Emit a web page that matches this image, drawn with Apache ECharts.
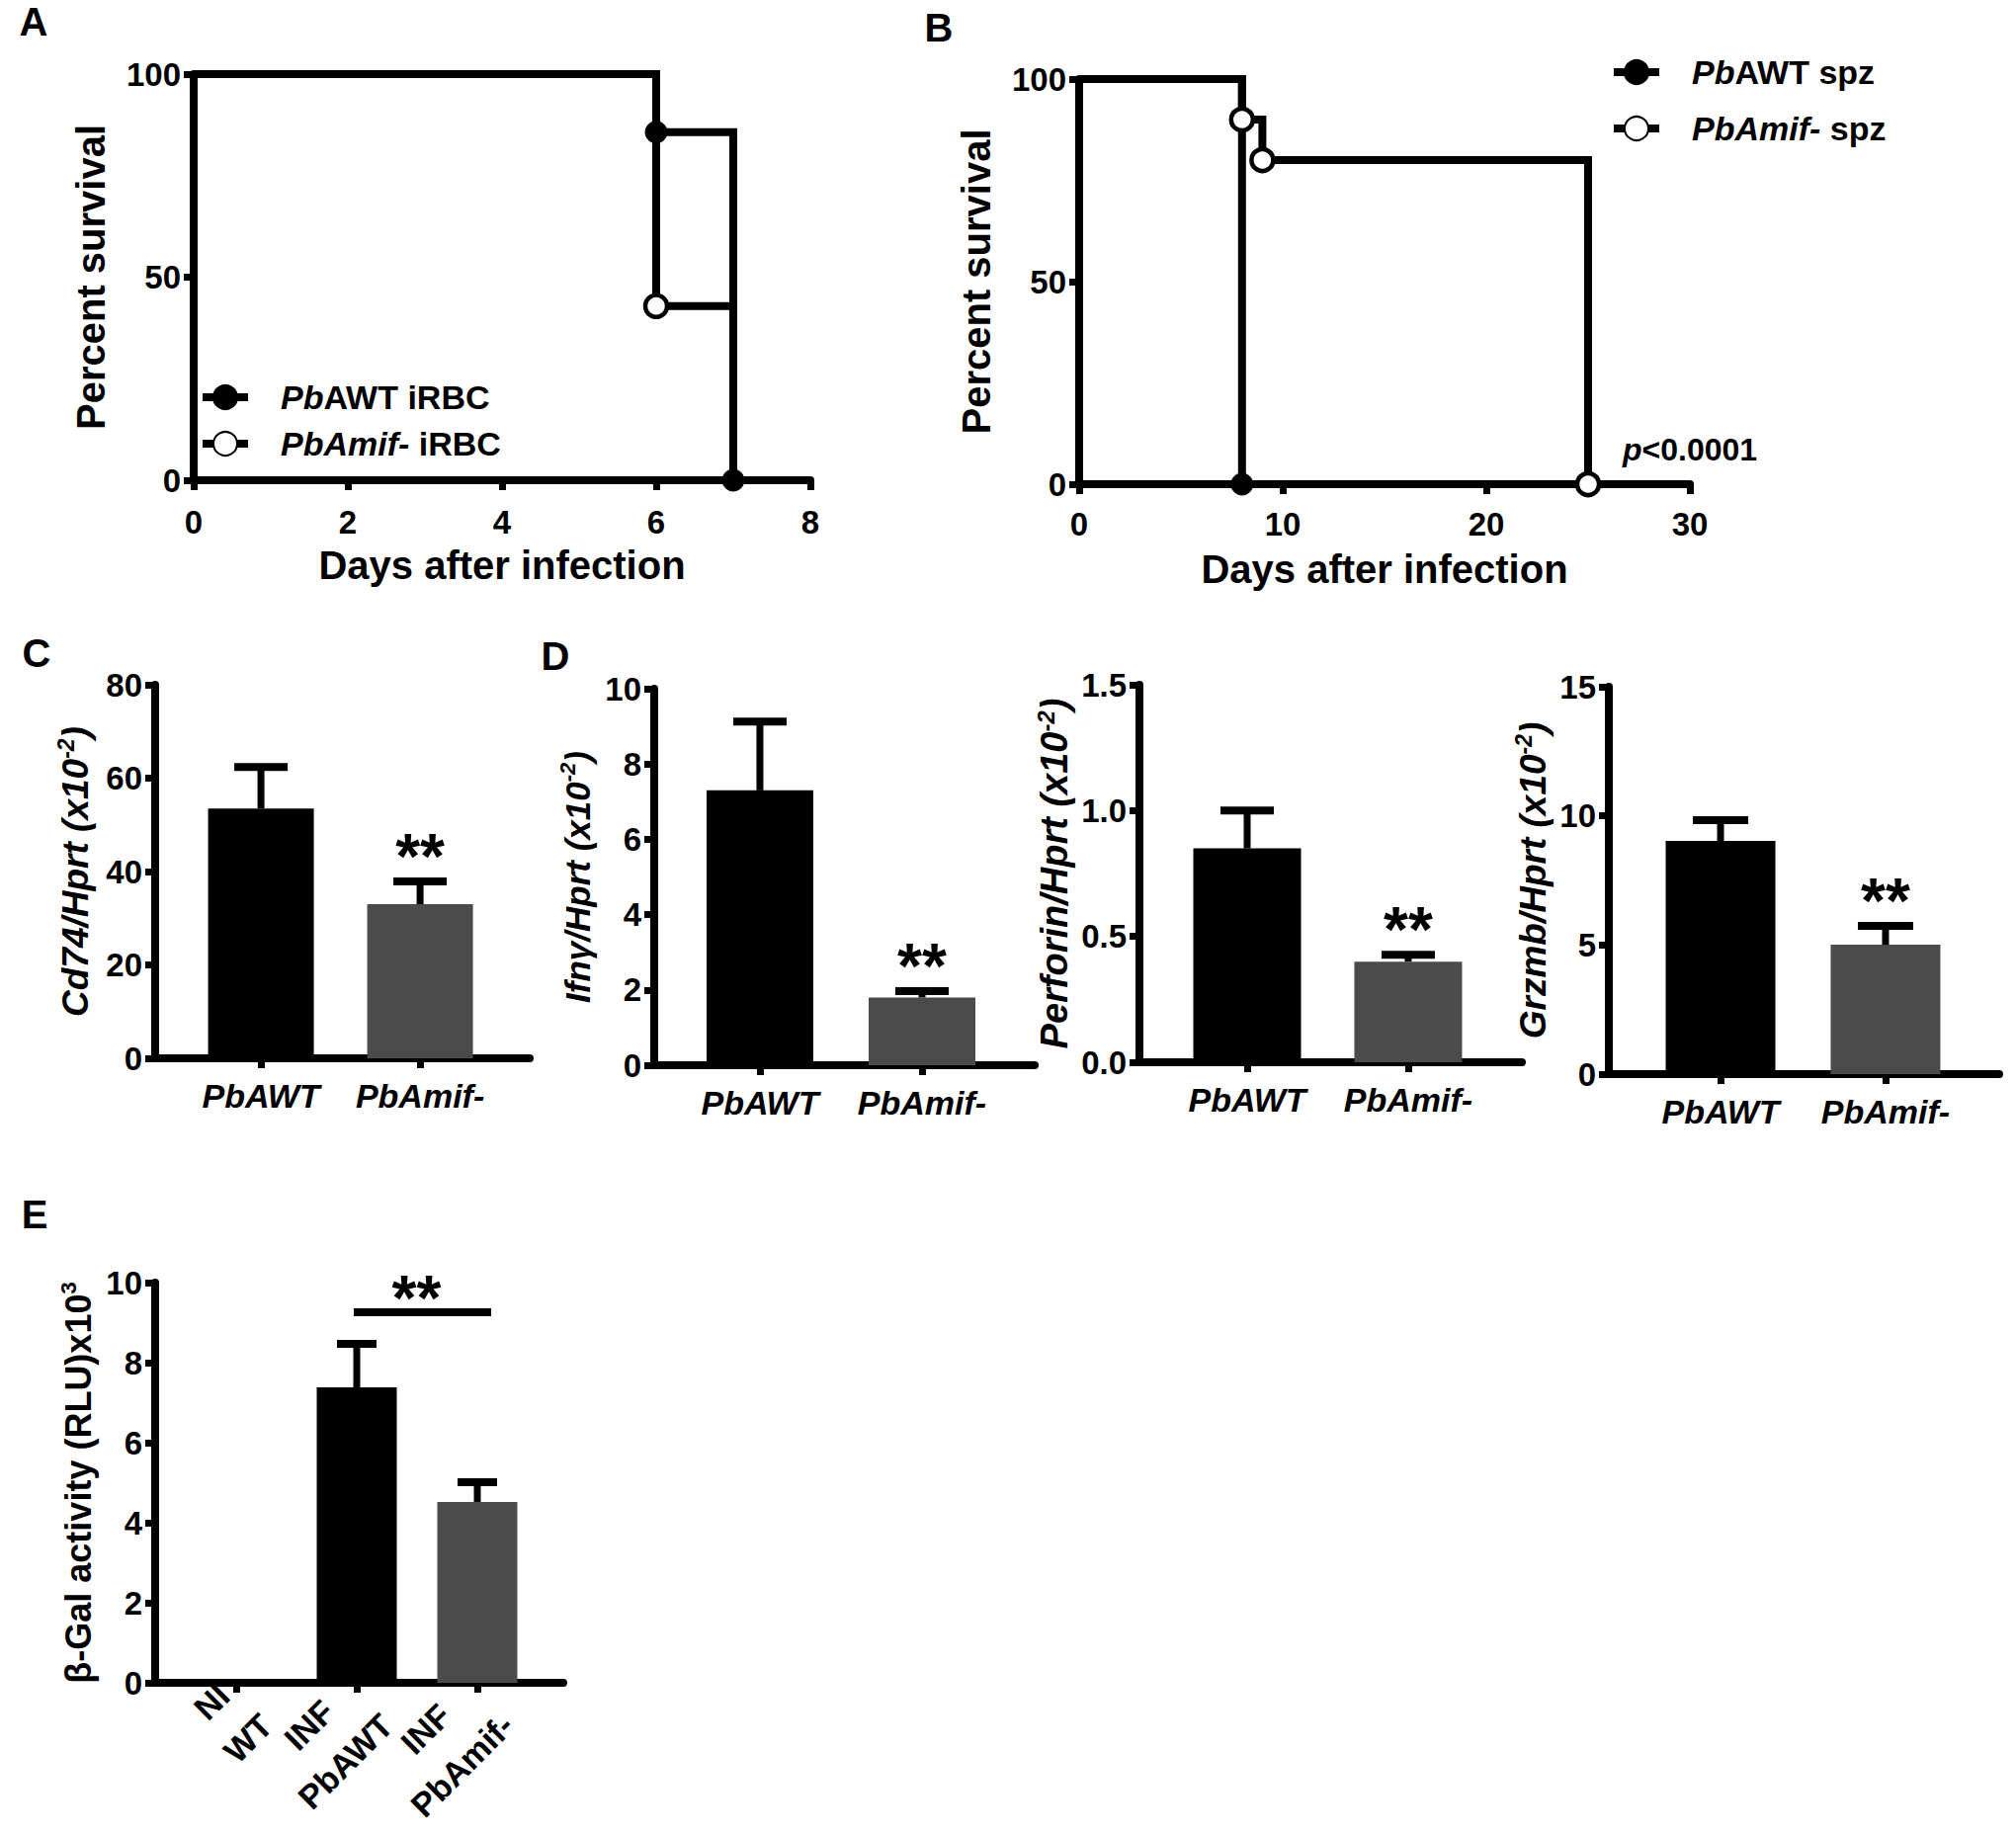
<!DOCTYPE html>
<html>
<head>
<meta charset="utf-8">
<script src="https://cdn.jsdelivr.net/npm/echarts@6/dist/echarts.min.js"></script>
<style>
html,body{margin:0;padding:0;background:#fff;}
#chart{width:2040px;height:1855px;}
</style>
</head>
<body>
<div id="chart"></div>
<script>
// ---------------- DATA ----------------
// Panel A: survival after iRBC infection, [day, percent]
const survA_WT = [[0,100],[6,85.7],[7,0]];
const survA_KO = [[0,100],[6,42.9],[7,0]];
// Panel B: survival after sporozoite infection, [day, percent]
const survB_WT = [[0,100],[8,0]];
const survB_KO = [[0,100],[8,90],[9,80],[25,0]];
const pValueB = 'p<0.0001';

// Panels C, D: qPCR, mean and SEM per group
const groups = ['PbAWT', 'PbAmif-'];
const cd74Mean = [53.5, 33.0],  cd74Sem = [8.9, 4.9];
const ifngMean = [7.3, 1.8],    ifngSem = [1.83, 0.17];
const perfMean = [0.85, 0.40],  perfSem = [0.15, 0.027];
const grzmbMean = [9.03, 5.01], grzmbSem = [0.80, 0.73];
const sigStars = [0, 1];            // '**' above second group

// Panel E: beta-Gal activity
const galCats = [['NI','WT'], ['INF','PbAWT'], ['INF','PbAmif-']];
const galMean = [0.06, 7.38, 4.52];
const galSem  = [0, 1.09, 0.49];
const galSig  = {x0: 0.975, x1: 2.115, y: 9.26, text: '**'};

// ---------------- STYLE ----------------
const FF = "'Liberation Sans', Arial, Helvetica, sans-serif";
const barColors = ['#000000', '#4b4b4b'];
const galColors = ['#000000', '#000000', '#4b4b4b'];
const AX = {color:'#000', width:8};
const TICK = {color:'#000', width:7};
const TICK_FS = 33;

function axisBase(extra) {
  return Object.assign({
    axisLine: {show:true, onZero:false, lineStyle: AX},
    axisTick: {show:true, length:10, lineStyle: TICK},
    splitLine: {show:false},
    axisLabel: {color:'#000', fontSize:TICK_FS, fontWeight:'bold', fontFamily:FF, margin:13}
  }, extra);
}

const grids = [
  {left:196,  top:75,   width:624, height:411}, // A
  {left:1092, top:80,   width:618, height:410}, // B
  {left:157,  top:693,  width:379, height:378}, // C
  {left:662,  top:697,  width:385, height:381}, // D1
  {left:1153, top:693,  width:387, height:382}, // D2
  {left:1628, top:695,  width:395, height:392}, // D3
  {left:157,  top:1298, width:413, height:405}  // E
];

function yRich(fs) {
  return {
    i: {fontSize:fs, fontWeight:'bold', fontStyle:'italic', fontFamily:FF, lineHeight:42, color:'#000'},
    n: {fontSize:fs, fontWeight:'bold', fontFamily:FF, lineHeight:42, color:'#000'},
    s: {fontSize:Math.round(fs*0.62), fontWeight:'bold', fontStyle:'italic', fontFamily:FF, lineHeight:24, verticalAlign:'top', color:'#000'},
    sn: {fontSize:Math.round(fs*0.62), fontWeight:'bold', fontFamily:FF, lineHeight:24, verticalAlign:'top', color:'#000'}
  };
}

function survX(gi, max, interval, margin) {
  return axisBase({type:'value', gridIndex:gi, min:0, max:max, interval:interval,
    axisLabel:{color:'#000', fontSize:TICK_FS, fontWeight:'bold', fontFamily:FF, margin:margin},
    name:'Days after infection', nameLocation:'middle', nameGap:66,
    nameTextStyle:{fontSize:40, fontWeight:'bold', fontFamily:FF, color:'#000'}});
}
function survY(gi) {
  return axisBase({type:'value', gridIndex:gi, min:0, max:100, interval:50,
    name:'Percent survival', nameLocation:'middle', nameGap:84,
    nameTextStyle:{fontSize:40, fontWeight:'bold', fontFamily:FF, color:'#000'}});
}
function barX(gi, min, max) {
  return axisBase({type:'value', gridIndex:gi, min:min, max:max,
    axisTick:{show:true, length:10, customValues:[0,1], lineStyle:TICK},
    axisLabel:{customValues:[0,1], color:'#000', fontSize:34, fontWeight:'bold', fontStyle:'italic', fontFamily:FF, margin:21,
      formatter: v => groups[Math.round(v)]}});
}
function barY(gi, max, interval, name, nameGap, fs, fmt) {
  return axisBase({type:'value', gridIndex:gi, min:0, max:max, interval:interval,
    axisLabel:{color:'#000', fontSize:TICK_FS, fontWeight:'bold', fontFamily:FF, margin:13, formatter: fmt},
    name:name, nameLocation:'middle', nameGap:nameGap,
    nameTextStyle:{rich: yRich(fs), fontFamily:FF}});
}

const galLabelShift = 0.1; // labels sit slightly right of their ticks, as in the original figure
const xAxes = [
  survX(0, 8, 2, 26),
  survX(1, 30, 10, 24),
  barX(2, -0.665, 1.689),
  barX(3, -0.652, 1.695),
  barX(4, -0.669, 1.706),
  barX(5, -0.677, 1.689),
  axisBase({type:'value', gridIndex:6, min:-0.672, max:2.713,
    axisTick:{show:true, length:10, customValues:[0,1,2], lineStyle:TICK},
    axisLabel:{show:false}}),
  {type:'value', gridIndex:6, position:'bottom', min:-0.672 - galLabelShift, max:2.713 - galLabelShift,
    axisLine:{show:false}, axisTick:{show:false}, splitLine:{show:false},
    axisLabel:{customValues:[0,1,2], rotate:45, margin:19, color:'#000', fontFamily:FF,
      showMinLabel:true, showMaxLabel:true, hideOverlap:false,
      formatter: v => { const c = galCats[Math.round(v)]; return '{a|' + c[0] + '}\n{a|' + c[1] + '}'; },
      rich:{a:{fontSize:34, fontWeight:'bold', fontFamily:FF, align:'center', lineHeight:52, color:'#000'}}}}
];
const yAxes = [
  survY(0),
  survY(1),
  barY(2, 80, 20, '{i|Cd74/Hprt (x10}{s|-2}{i|)}', 60, 37),
  barY(3, 10, 2, '{i|Ifnγ/Hprt (x10}{s|-2}{i|)}', 57, 35),
  barY(4, 1.5, 0.5, '{i|Perforin/Hprt (x10}{s|-2}{i|)}', 65, 38, v => v.toFixed(1)),
  barY(5, 15, 5, '{i|Grzmb/Hprt (x10}{s|-2}{i|)}', 56, 37),
  barY(6, 10, 2, '{n|β-Gal activity (RLU)x10}{sn|3}', 57, 36)
];

function survSeries(name, pts, gi, open, z, hideLast) {
  return {
    type:'line', name:name, xAxisIndex:gi, yAxisIndex:gi, step:'end', z:z, clip:false,
    symbol:'circle', symbolSize:22, showSymbol:true, showAllSymbol:true,
    data: pts.map((p, k) => {
      const hide = (k === 0) || (hideLast && k === pts.length - 1);
      return hide ? {value:p, symbol:'none'} : {value:p};
    }),
    lineStyle:{color:'#000', width:8, join:'miter', cap:'butt'},
    itemStyle: open ? {color:'#fff', borderColor:'#000', borderWidth:4.5} : {color:'#000', borderColor:'#000', borderWidth:1},
    emphasis:{disabled:true}, silent:true
  };
}

function barSeries(gi, means, colors, width) {
  return {type:'bar', xAxisIndex:gi, yAxisIndex:gi, barWidth:width, silent:true, z:2,
    data: means.map((m, k) => ({value:[k, m], itemStyle:{color:colors[k]}}))};
}

function errSeries(gi, means, sems, stars, capHalf) {
  return {type:'custom', xAxisIndex:gi, yAxisIndex:gi, z:3, silent:true, clip:false,
    encode:{x:0, y:1},
    data: means.map((m, k) => [k, m, sems[k], stars ? stars[k] : 0]),
    renderItem: (params, api) => {
      const x = api.value(0), m = api.value(1), s = api.value(2), st = api.value(3);
      const children = [];
      if (s > 0) {
        const b = api.coord([x, m]), t = api.coord([x, m + s]);
        children.push({type:'line', shape:{x1:b[0], y1:b[1], x2:t[0], y2:t[1]}, style:{stroke:'#000', lineWidth:7}});
        children.push({type:'line', shape:{x1:t[0]-capHalf, y1:t[1], x2:t[0]+capHalf, y2:t[1]}, style:{stroke:'#000', lineWidth:8}});
        if (st) children.push({type:'text', x:t[0], y:t[1]-25,
          style:{text:'**', align:'center', verticalAlign:'middle', fontSize:64, fontWeight:'bold', fontFamily:FF, fill:'#000'}});
      }
      return {type:'group', children:children};
    }};
}

const sigSeries = {
  type:'custom', xAxisIndex:6, yAxisIndex:6, z:3, silent:true, clip:false,
  encode:{x:0, y:2},
  data:[[galSig.x0, galSig.x1, galSig.y]],
  renderItem: (params, api) => {
    const a = api.coord([api.value(0), api.value(2)]);
    const b = api.coord([api.value(1), api.value(2)]);
    return {type:'group', children:[
      {type:'line', shape:{x1:a[0], y1:a[1], x2:b[0], y2:b[1]}, style:{stroke:'#000', lineWidth:8}},
      {type:'text', x:(a[0]+b[0])/2 - 6, y:a[1]-14,
        style:{text:galSig.text, align:'center', verticalAlign:'middle', fontSize:64, fontWeight:'bold', fontFamily:FF, fill:'#000'}}
    ]};
  }
};

const legendText = {fontSize:34, fontWeight:'bold', fontFamily:FF, color:'#000', lineHeight:34, padding:[0,0,0,28],
  rich:{i:{fontSize:34, fontWeight:'bold', fontStyle:'italic', fontFamily:FF, color:'#000'}}};
function legendFmt(name) {
  if (name.indexOf('PbAWT') === 0) return '{i|Pb}AWT' + name.slice(5);
  return '{i|PbAmif-}' + name.slice(7);
}

const letters = [['A',34,22],['B',950,28],['C',37,661],['D',562,664],['E',35,1229]];

const option = {
  animation:false,
  backgroundColor:'#fff',
  grid: grids.map(g => Object.assign({containLabel:false}, g)),
  xAxis: xAxes,
  yAxis: yAxes,
  legend: [
    {data:['PbAWT iRBC','PbAmif- iRBC'], orient:'vertical', left:196, top:380, itemWidth:46, itemHeight:30, itemGap:13,
     selectedMode:false, formatter:legendFmt, textStyle:legendText, lineStyle:{width:8}},
    {data:['PbAWT spz','PbAmif- spz'], orient:'vertical', left:1624, top:51, itemWidth:46, itemHeight:30, itemGap:23,
     selectedMode:false, formatter:legendFmt, textStyle:legendText, lineStyle:{width:8}}
  ],
  graphic: letters.map(l => ({type:'text', x:l[1], y:l[2], silent:true,
      style:{text:l[0], fontSize:40, fontWeight:'bold', fontFamily:FF, fill:'#000', align:'center', verticalAlign:'middle'}}))
    .concat([{type:'text', x:1642, y:455, silent:true,
      style:{text:'{i|' + pValueB.charAt(0) + '}' + pValueB.slice(1), fontSize:32, fontWeight:'bold', fontFamily:FF, fill:'#000',
        align:'left', verticalAlign:'middle',
        rich:{i:{fontSize:32, fontWeight:'bold', fontStyle:'italic', fontFamily:FF, fill:'#000'}}}}]),
  series: [
    survSeries('PbAmif- iRBC', survA_KO, 0, true, 2, true),
    survSeries('PbAWT iRBC', survA_WT, 0, false, 3, false),
    survSeries('PbAWT spz', survB_WT, 1, false, 2, false),
    survSeries('PbAmif- spz', survB_KO, 1, true, 3, false),
    barSeries(2, cd74Mean, barColors, 107),  errSeries(2, cd74Mean, cd74Sem, sigStars, 27),
    barSeries(3, ifngMean, barColors, 108),  errSeries(3, ifngMean, ifngSem, sigStars, 27),
    barSeries(4, perfMean, barColors, 109),  errSeries(4, perfMean, perfSem, sigStars, 27),
    barSeries(5, grzmbMean, barColors, 111), errSeries(5, grzmbMean, grzmbSem, sigStars, 28),
    barSeries(6, galMean, galColors, 81),    errSeries(6, galMean, galSem, null, 20),
    sigSeries
  ]
};

const chart = echarts.init(document.getElementById('chart'), null, {renderer:'svg', width:2040, height:1855});
chart.setOption(option);
</script>
</body>
</html>
